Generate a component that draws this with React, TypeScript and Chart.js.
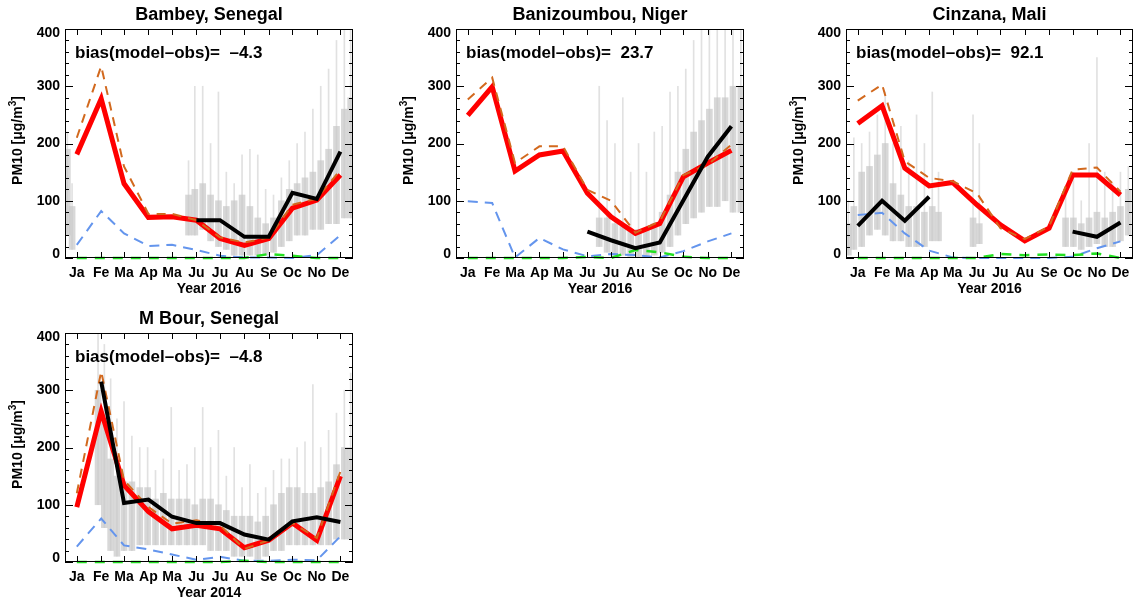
import React, { useEffect, useRef } from "react";
import { Chart, registerables } from "chart.js";

Chart.register(...registerables);

const FONT = '"Liberation Sans", Arial, Helvetica, sans-serif';

// ---------- shared axis data ----------
const monthLabels = ["Ja", "Fe", "Ma", "Ap", "Ma", "Ju", "Ju", "Au", "Se", "Oc", "No", "De"];
const monthDays = [15, 46, 75, 106, 136, 167, 197, 228, 259, 289, 320, 350];
const yTickValues = [0, 100, 200, 300, 400];

// ---------- Bambey, Senegal (2016) ----------
const bambeyRed = [181, 278, 130, 71, 72, 66, 34, 22, 34, 87, 101, 145];
const bambeyOrange = [210, 335, 160, 77, 77, 66, 36, 27, 36, 93, 104, 154];
const bambeyBlue = [23, 82, 43, 21, 23, 14, 4, 1, 1, 0, 5, 40];
const bambeyGreen = [0, 0, 0, 0, 0, 0, 0, 0, 7, 4, 0, 0];
const bambeyObs = [null, null, null, null, null, 66, 66, 37, 37, 114, 103, 186];
const bambeyHourlyDay = [3, 9, 157, 165, 175, 185, 195, 205, 215, 225, 235, 245, 255, 265, 275, 285, 295, 305, 315, 325, 335, 345, 355, 363];
const bambeyHourlyLow = [40, 15, 40, 40, 50, 30, 20, 15, 5, 5, 5, 5, 5, 10, 20, 30, 40, 40, 50, 50, 60, 60, 70, 70];
const bambeyHourlyHigh = [190, 90, 110, 120, 130, 110, 100, 90, 100, 110, 90, 70, 60, 70, 100, 120, 130, 140, 150, 170, 190, 230, 260, 280];
const bambeyHourlyMax = [220, 130, 170, 300, 300, 200, 290, 150, 130, 180, 190, 180, 120, 110, 140, 170, 200, 220, 260, 300, 330, 380, 400, 400];

// ---------- Banizoumbou, Niger (2016) ----------
const baniRed = [249, 299, 152, 180, 187, 113, 72, 43, 60, 142, 166, 188];
const baniOrange = [277, 315, 166, 195, 195, 119, 100, 44, 64, 145, 163, 198];
const baniBlue = [99, 96, 1, 35, 15, 3, 7, 5, 1, 12, 29, 43];
const baniGreen = [0, 0, 0, 0, 0, 2, 0, 14, 10, 2, 0, 0];
const baniObs = [null, null, null, null, null, 46, 31, 17, 27, 101, 177, 230];
const baniHourlyDay = [182, 192, 202, 212, 222, 232, 242, 252, 262, 272, 282, 292, 302, 312, 322, 332, 342, 352, 362];
const baniHourlyLow = [20, 10, 5, 5, 0, 0, 0, 5, 10, 20, 40, 60, 70, 80, 90, 90, 100, 80, 80];
const baniHourlyHigh = [70, 70, 60, 55, 50, 50, 50, 60, 80, 110, 150, 190, 220, 240, 260, 280, 280, 300, 300];
const baniHourlyMax = [300, 240, 200, 280, 150, 200, 150, 220, 230, 290, 300, 330, 380, 400, 400, 400, 400, 400, 400];

// ---------- Cinzana, Mali (2016) ----------
const cinzRed = [235, 266, 157, 126, 132, 93, 58, 30, 52, 145, 145, 110];
const cinzOrange = [275, 303, 169, 140, 134, 113, 52, 33, 55, 154, 158, 116];
const cinzBlue = [75, 79, 43, 13, 1, 0, 0, 0, 0, 2, 17, 29];
const cinzGreen = [0, 0, 0, 0, 0, 0, 7, 5, 6, 5, 8, 0];
const cinzObs = [56, 100, 65, 107, null, null, null, null, null, 46, 37, 62];
const cinzHourlyDay = [3, 10, 20, 30, 40, 50, 60, 70, 80, 90, 100, 110, 118, 162, 170, 280, 290, 300, 310, 320, 330, 340, 350, 360];
const cinzHourlyLow = [5, 15, 20, 40, 50, 40, 30, 30, 20, 20, 20, 30, 30, 20, 25, 20, 20, 15, 20, 25, 20, 20, 30, 40];
const cinzHourlyHigh = [60, 90, 150, 160, 180, 200, 130, 110, 90, 90, 80, 90, 80, 70, 60, 70, 70, 60, 70, 80, 70, 80, 90, 120];
const cinzHourlyMax = [100, 210, 200, 220, 250, 290, 200, 230, 170, 250, 200, 290, 150, 250, 200, 110, 150, 100, 200, 350, 150, 130, 150, 160];

// ---------- M Bour, Senegal (2014) ----------
const mbourRed = [96, 263, 134, 88, 58, 64, 58, 25, 38, 68, 38, 150];
const mbourOrange = [120, 333, 143, 96, 67, 73, 64, 23, 38, 68, 42, 158];
const mbourBlue = [27, 76, 29, 22, 13, 4, 9, 2, 2, 4, 3, 45];
const mbourGreen = [0, 0, 0, 0, 0, 0, 0, 2, 0, 0, 0, 0];
const mbourObs = [null, 315, 103, 109, 79, 68, 68, 48, 39, 71, 78, 70];
const mbourHourlyDay = [42, 50, 58, 66, 75, 85, 95, 105, 115, 125, 135, 145, 155, 165, 175, 185, 195, 205, 215, 225, 235, 245, 255, 265, 275, 285, 295, 305, 315, 325, 335, 345, 355, 363];
const mbourHourlyLow = [100, 60, 20, 10, 20, 20, 30, 30, 30, 30, 30, 30, 30, 30, 30, 20, 20, 20, 10, 10, 10, 5, 10, 20, 20, 30, 30, 30, 30, 30, 30, 40, 40, 40];
const mbourHourlyHigh = [300, 250, 180, 150, 140, 140, 130, 130, 110, 120, 110, 110, 110, 100, 110, 110, 100, 90, 80, 80, 80, 70, 80, 100, 120, 130, 130, 120, 120, 130, 140, 170, 200, 200];
const mbourHourlyMax = [400, 380, 320, 250, 280, 220, 200, 200, 160, 180, 270, 160, 170, 200, 270, 200, 230, 150, 200, 130, 170, 120, 130, 160, 180, 180, 200, 210, 310, 200, 230, 260, 300, 330];

type PanelSpec = {
  title: string;
  bias: string;
  xTitle: string;
  frame: { l: number; t: number; r: number; b: number };
  red: number[];
  orange: number[];
  blue: number[];
  green: number[];
  obs: (number | null)[];
  hDay: number[];
  hLow: number[];
  hHigh: number[];
  hMax: number[];
};

const panels: PanelSpec[] = [
  {
    title: "Bambey, Senegal", bias: "bias(model\u2013obs)=  \u20134.3", xTitle: "Year 2016",
    frame: { l: 65, t: 29, r: 353, b: 258 },
    red: bambeyRed, orange: bambeyOrange, blue: bambeyBlue, green: bambeyGreen, obs: bambeyObs,
    hDay: bambeyHourlyDay, hLow: bambeyHourlyLow, hHigh: bambeyHourlyHigh, hMax: bambeyHourlyMax,
  },
  {
    title: "Banizoumbou, Niger", bias: "bias(model\u2013obs)=  23.7", xTitle: "Year 2016",
    frame: { l: 456, t: 29, r: 744, b: 258 },
    red: baniRed, orange: baniOrange, blue: baniBlue, green: baniGreen, obs: baniObs,
    hDay: baniHourlyDay, hLow: baniHourlyLow, hHigh: baniHourlyHigh, hMax: baniHourlyMax,
  },
  {
    title: "Cinzana, Mali", bias: "bias(model\u2013obs)=  92.1", xTitle: "Year 2016",
    frame: { l: 846, t: 29, r: 1133, b: 258 },
    red: cinzRed, orange: cinzOrange, blue: cinzBlue, green: cinzGreen, obs: cinzObs,
    hDay: cinzHourlyDay, hLow: cinzHourlyLow, hHigh: cinzHourlyHigh, hMax: cinzHourlyMax,
  },
  {
    title: "M Bour, Senegal", bias: "bias(model\u2013obs)=  \u20134.8", xTitle: "Year 2014",
    frame: { l: 65, t: 333, r: 353, b: 562 },
    red: mbourRed, orange: mbourOrange, blue: mbourBlue, green: mbourGreen, obs: mbourObs,
    hDay: mbourHourlyDay, hLow: mbourHourlyLow, hHigh: mbourHourlyHigh, hMax: mbourHourlyMax,
  },
];

const decorPlugin = {
  id: "decor",
  afterDraw(chart: any) {
    const o = chart.options.plugins.decor;
    const { ctx, chartArea: a } = chart;
    const xs = chart.scales.x;
    const ys = chart.scales.y;
    ctx.save();
    ctx.strokeStyle = "#000";
    ctx.lineWidth = 1;
    ctx.strokeRect(a.left + 0.5, a.top + 0.5, a.right - a.left - 1, a.bottom - a.top - 1);
    ctx.beginPath();
    monthDays.forEach((d) => {
      const px = Math.round(xs.getPixelForValue(d)) + 0.5;
      ctx.moveTo(px, a.bottom);
      ctx.lineTo(px, a.bottom - 6);
      ctx.moveTo(px, a.top);
      ctx.lineTo(px, a.top + 6);
    });
    for (let v = 0; v <= 400; v += 20) {
      const py = Math.round(ys.getPixelForValue(v)) + 0.5;
      const len = v % 100 === 0 ? 8 : 4;
      ctx.moveTo(a.left, py);
      ctx.lineTo(a.left + len, py);
      ctx.moveTo(a.right, py);
      ctx.lineTo(a.right - len, py);
    }
    ctx.stroke();

    ctx.fillStyle = "#000";
    ctx.font = `bold 14px ${FONT}`;
    ctx.textAlign = "right";
    ctx.textBaseline = "middle";
    yTickValues.forEach((v) => {
      let py = ys.getPixelForValue(v);
      py = Math.min(Math.max(py, a.top + 4), a.bottom - 4);
      ctx.fillText(String(v), a.left - 5, py);
    });
    ctx.textAlign = "center";
    monthDays.forEach((d, i) => {
      ctx.fillText(monthLabels[i], xs.getPixelForValue(d), a.bottom + 15);
    });
    ctx.fillText(o.xTitle, (a.left + a.right) / 2, a.bottom + 31);

    ctx.font = `bold 18px ${FONT}`;
    ctx.fillText(o.title, (a.left + a.right) / 2, a.top - 14);

    ctx.font = `bold 17px ${FONT}`;
    ctx.textAlign = "left";
    ctx.fillText(o.bias, a.left + 10, a.top + 24);

    // rotated y-axis title with superscript
    ctx.translate(a.left - 47, (a.top + a.bottom) / 2 - 3);
    ctx.rotate(-Math.PI / 2);
    const f = `bold 14px ${FONT}`;
    const fs = `bold 10px ${FONT}`;
    ctx.font = f;
    const p1 = "PM10 [\u03bcg/m";
    const w1 = ctx.measureText(p1).width;
    ctx.font = fs;
    const w2 = ctx.measureText("3").width;
    ctx.font = f;
    const w3 = ctx.measureText("]").width;
    const total = w1 + w2 + w3;
    let x0 = -total / 2;
    ctx.textAlign = "left";
    ctx.fillText(p1, x0, 0);
    x0 += w1;
    ctx.font = fs;
    ctx.fillText("3", x0, -5);
    x0 += w2;
    ctx.font = f;
    ctx.fillText("]", x0, 0);
    ctx.restore();
  },
};

function Panel({ spec }: { spec: PanelSpec }) {
  const ref = useRef<HTMLCanvasElement | null>(null);
  const { l, t, r, b } = spec.frame;
  const cLeft = l - 65;
  const cTop = t - 29;
  const cW = Math.min(r + 2, 1135) - cLeft;
  const cH = b + 44 - cTop;

  useEffect(() => {
    if (!ref.current) return;
    const pts = (vals: (number | null)[]) => monthDays.map((d, i) => ({ x: d, y: vals[i] }));
    const chart = new Chart(ref.current, {
      type: "line",
      data: {
        datasets: [
          {
            type: "line", label: "obs monthly", data: pts(spec.obs) as any,
            borderColor: "#000000", borderWidth: 4, pointRadius: 0, spanGaps: false, order: 1, clip: false as any,
          },
          {
            type: "line", label: "green", data: pts(spec.green) as any,
            borderColor: "#22E022", borderWidth: 2.5, borderDash: [10, 8], pointRadius: 0, order: 2, clip: false as any,
          },
          {
            type: "line", label: "blue", data: pts(spec.blue) as any,
            borderColor: "#6495ED", borderWidth: 2, borderDash: [10, 7], pointRadius: 0, order: 3, clip: false as any,
          },
          {
            type: "line", label: "orange", data: pts(spec.orange) as any,
            borderColor: "#D2691E", borderWidth: 2, borderDash: [9, 7], pointRadius: 0, order: 4, clip: false as any,
          },
          {
            type: "line", label: "red", data: pts(spec.red) as any,
            borderColor: "#FF0000", borderWidth: 5, pointRadius: 0, order: 5, clip: false as any,
          },
          {
            type: "bar", label: "hourly core", data: spec.hDay.map((d, i) => ({ x: d, y: [spec.hLow[i], spec.hHigh[i]] })) as any,
            backgroundColor: "rgba(200,200,200,0.7)", borderWidth: 0, barThickness: 6, grouped: false, order: 6,
          } as any,
          {
            type: "bar", label: "hourly peaks", data: spec.hDay.map((d, i) => ({ x: d, y: [spec.hLow[i], spec.hMax[i]] })) as any,
            backgroundColor: "rgba(200,200,200,0.55)", borderWidth: 0, barThickness: 1, grouped: false, order: 7,
          } as any,
        ],
      },
      options: {
        animation: false,
        responsive: false,
        devicePixelRatio: 1,
        layout: { padding: { left: 65, top: 29, right: cW - (r - cLeft), bottom: cH - (b - cTop) } },
        scales: {
          x: { type: "linear", min: 0, max: 366, display: false, offset: false },
          y: { type: "linear", min: 0, max: 400, display: false },
        },
        plugins: {
          legend: { display: false },
          tooltip: { enabled: false },
          decor: { title: spec.title, bias: spec.bias, xTitle: spec.xTitle },
        } as any,
      },
      plugins: [decorPlugin],
    });
    return () => chart.destroy();
  }, [spec]);

  return (
    <canvas
      ref={ref}
      width={cW}
      height={cH}
      style={{ position: "absolute", left: cLeft, top: cTop, width: cW, height: cH }}
    />
  );
}

export default function App() {
  return (
    <div style={{ position: "fixed", left: 0, top: 0, width: 1135, height: 605, background: "#fff", overflow: "hidden" }}>
      {panels.map((p) => (
        <Panel key={p.title} spec={p} />
      ))}
    </div>
  );
}
